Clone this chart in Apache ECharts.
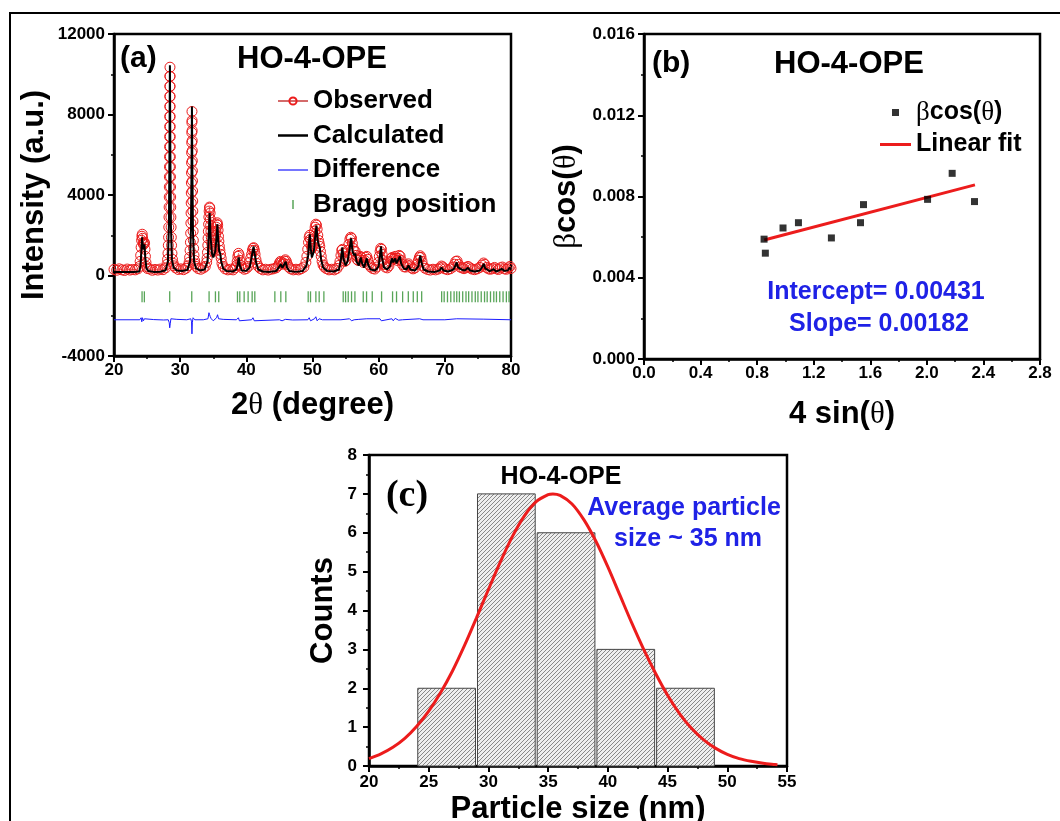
<!DOCTYPE html>
<html>
<head>
<meta charset="utf-8">
<script src="https://cdn.jsdelivr.net/npm/echarts@6/dist/echarts.min.js"></script>
<style>
html,body{margin:0;padding:0;background:#fff;}
#chart{width:1060px;height:821px;}
</style>
</head>
<body>
<div id="chart"></div>
<script>
// ---------- Panel (a): XRD Rietveld refinement ----------
const obsPts = [[20,300],[20.4,260],[20.8,330],[21.2,280],[21.6,250],[22,320],[22.4,270],[22.8,300],[23.2,280],[23.6,330],
[23.85,450],[23.95,700],[24.03,1000],[24.1,1400],[24.17,1750],[24.22,1950],[24.27,2050],[24.33,1850],[24.4,1600],[24.47,1550],[24.55,1650],[24.62,1600],[24.68,1300],[24.75,950],[24.83,650],[24.92,450],[25.05,350],
[25.4,320],[25.8,260],[26.2,300],[26.6,270],[27,320],[27.4,290],[27.8,380],
[28,550],[28.1,800],[28.16,1100],[28.21,1500],[28.25,1900],[28.28,2400],[28.31,2900],[28.33,3400],[28.35,3900],[28.36,4400],[28.37,4900],[28.38,5400],[28.39,5900],[28.4,6400],[28.41,6900],[28.415,7400],[28.42,7900],[28.43,8400],[28.435,8900],[28.44,9400],[28.45,9900],[28.46,10350],
[28.47,9900],[28.475,9400],[28.48,8900],[28.485,8400],[28.49,7900],[28.5,7400],[28.505,6900],[28.51,6400],[28.52,5900],[28.53,5400],[28.54,4900],[28.55,4400],[28.565,3900],[28.58,3400],[28.6,2900],[28.63,2400],[28.66,1900],[28.7,1500],[28.76,1100],[28.84,800],[28.95,600],[29.05,480],
[29.3,380],[29.7,300],[30.1,330],[30.5,290],[30.9,360],[31.2,480],
[31.35,650],[31.43,900],[31.5,1250],[31.55,1650],[31.59,2100],[31.62,2600],[31.645,3100],[31.665,3600],[31.68,4100],[31.695,4600],[31.71,5100],[31.72,5600],[31.73,6100],[31.745,6600],[31.755,7100],[31.77,7600],[31.785,8150],
[31.8,7700],[31.81,7200],[31.82,6700],[31.83,6200],[31.84,5700],[31.855,5200],[31.865,4700],[31.88,4200],[31.895,3700],[31.91,3200],[31.93,2700],[31.955,2200],[31.99,1750],[32.03,1350],[32.09,1000],[32.17,750],[32.27,580],[32.4,450],
[32.7,350],[33.1,310],[33.5,370],[33.8,450],
[34,650],[34.07,850],[34.13,1150],[34.18,1500],[34.22,1850],[34.26,2200],[34.3,2550],[34.34,2900],[34.38,3200],[34.43,3400],[34.48,3350],[34.53,3100],[34.57,2800],[34.61,2500],[34.65,2200],[34.7,1900],[34.76,1600],[34.83,1400],[34.9,1300],[35,1200],[35.1,1300],[35.18,1500],[35.26,1750],[35.33,2000],[35.4,2200],[35.46,2400],[35.53,2550],[35.6,2620],[35.67,2500],[35.73,2250],[35.79,1950],[35.85,1700],[35.92,1450],[36,1250],[36.1,1050],[36.2,850],[36.32,600],[36.5,450],
[36.8,330],[37.2,280],[37.6,310],[38,280],[38.3,380],
[38.5,500],[38.62,700],[38.72,950],[38.82,1100],[38.92,1000],[39.02,750],[39.15,500],[39.35,380],
[39.7,310],[40,350],[40.3,450],
[40.5,650],[40.65,850],[40.8,1050],[40.92,1250],[41.02,1350],[41.12,1380],[41.22,1250],[41.32,1050],[41.45,800],[41.6,600],[41.8,450],[42.1,350],
[42.5,280],[42.9,310],[43.3,270],[43.7,310],[44.1,330],[44.5,380],
[44.8,480],[45,620],[45.15,700],[45.3,650],[45.45,560],[45.6,620],[45.75,720],[45.9,780],[46.05,700],[46.2,550],[46.4,420],
[46.7,330],[47.1,280],[47.5,310],[47.9,280],[48.3,340],[48.7,420],[49,650],
[49.15,950],[49.28,1300],[49.4,1650],[49.5,1900],[49.6,2000],[49.7,1800],[49.8,1500],[49.9,1350],[50,1450],[50.1,1700],[50.2,1950],[50.3,2200],[50.4,2400],[50.5,2550],[50.6,2500],[50.7,2300],[50.8,2000],[50.9,1750],[51,1600],[51.1,1450],[51.2,1200],[51.32,950],[51.45,700],[51.6,520],[51.8,420],
[52.1,340],[52.5,280],[52.9,310],[53.3,280],[53.7,350],[54,500],
[54.15,700],[54.3,1000],[54.42,1250],[54.52,1300],[54.62,1100],[54.75,850],[54.9,700],[55.05,750],[55.2,950],[55.35,1250],[55.5,1550],[55.65,1800],[55.78,1900],[55.9,1850],[56.02,1600],[56.15,1350],[56.3,1200],[56.45,1200],[56.6,1000],[56.75,800],[56.9,750],[57.05,850],[57.2,950],[57.35,900],[57.5,750],[57.7,650],[57.9,750],[58.05,900],[58.2,950],[58.35,800],[58.55,550],[58.8,420],
[59.1,350],[59.4,320],[59.7,420],[59.95,650],
[60.1,950],[60.22,1200],[60.32,1350],[60.42,1300],[60.52,1050],[60.65,750],[60.8,550],[61,420],
[61.3,380],[61.55,480],[61.75,700],[61.9,850],[62.05,900],[62.2,800],[62.35,850],[62.5,950],[62.65,850],[62.8,750],[62.95,850],[63.1,1000],[63.25,950],[63.4,750],[63.6,550],[63.85,430],[64.1,420],[64.3,520],[64.5,580],[64.7,480],[64.95,380],
[65.2,330],[65.5,380],[65.8,550],
[66,750],[66.15,900],[66.28,980],[66.4,900],[66.55,700],[66.75,480],[67,360],
[67.4,300],[67.8,270],[68.2,310],[68.6,280],[69,320],[69.3,380],[69.5,470],[69.7,420],[70,330],[70.4,290],[70.8,330],[71.2,420],[71.45,560],[71.65,700],[71.85,720],[72.05,550],[72.3,420],[72.6,380],[72.9,340],[73.2,400],[73.5,450],[73.8,380],[74.1,320],[74.5,290],[74.9,330],[75.3,400],[75.6,520],[75.85,620],[76.05,550],[76.3,400],[76.6,330],[76.9,310],[77.2,350],[77.5,400],[77.8,330],[78.1,300],[78.4,380],[78.7,420],[79,330],[79.3,310],[79.6,380],[79.85,450],[80,350]];

const calcPts = [[20,180],[21,175],[22,170],[23,175],[23.8,200],
[24,450],[24.12,1100],[24.25,1900],[24.38,1300],[24.5,1350],[24.6,1550],[24.72,900],[24.9,350],[25.2,220],[26,180],[27,190],[27.8,260],
[28.15,700],[28.3,2500],[28.38,6000],[28.45,10450],[28.52,6000],[28.6,2500],[28.75,800],[29,400],[29.5,250],[30.3,220],[31.1,280],
[31.5,700],[31.63,2300],[31.71,5000],[31.78,8400],[31.85,5000],[31.93,2200],[32.1,700],[32.4,350],[33,250],[33.7,300],
[34.15,700],[34.3,1800],[34.45,3100],[34.6,1900],[34.8,1100],[35,900],[35.3,1200],
[35.5,1900],[35.63,2550],[35.75,1700],[35.9,1200],[36.05,1100],[36.2,700],[36.5,350],[37,220],[38,200],[38.5,300],
[38.7,550],[38.85,900],[39,500],[39.3,250],[40,230],[40.5,400],[40.8,900],
[40.95,1200],[41.1,1450],[41.25,1100],[41.5,600],[41.8,300],[42.5,200],[43.5,180],[44.5,220],[44.9,400],
[45.2,560],[45.45,380],[45.7,450],[45.95,680],[46.15,400],[46.5,220],[47.5,180],[48.5,220],[49.1,500],
[49.35,1000],[49.5,1700],[49.6,2050],[49.75,1300],[49.9,900],[50.2,1200],[50.45,2100],[50.6,2480],[50.75,1800],[50.95,1500],[51.1,1400],[51.3,800],[51.6,400],[52.2,230],[53.2,200],[54,300],
[54.3,800],[54.5,1400],[54.7,800],[55,500],[55.3,700],[55.6,1300],[55.85,1850],[56.05,1200],[56.3,1000],[56.45,1100],[56.65,700],[57,500],[57.3,900],[57.5,600],[57.8,400],[58.2,850],[58.45,500],[58.8,300],[59.5,250],[60,450],
[60.2,1000],[60.35,1450],[60.5,900],[60.8,400],[61.3,300],[61.7,450],[62,850],[62.2,650],[62.5,850],[62.7,600],[63,650],[63.2,950],[63.4,600],[63.8,350],[64.2,300],[64.5,500],[64.8,300],[65.5,250],[66,450],
[66.15,750],[66.3,1000],[66.5,600],[66.8,300],[67.5,200],[68.5,180],[69.2,250],[69.5,400],[69.8,250],[70.5,200],[71.3,300],[71.6,500],[71.8,650],[72,400],[72.5,300],[73,250],[73.5,380],[73.8,250],[74.5,200],[75.3,250],[75.7,450],[75.9,580],[76.1,350],[76.8,220],[77.4,320],[77.7,200],[78.2,250],[78.6,330],[79,230],[79.5,250],[79.8,400],[80,300]];

const diffPts = [[20,-2200],[23.9,-2200],[24.1,-2100],[24.2,-2300],[24.3,-2100],[24.45,-2250],[24.6,-2150],[24.8,-2200],[26,-2190],[27.5,-2210],[28.2,-2200],[28.35,-2350],[28.42,-2600],[28.5,-2400],[28.6,-2150],[28.8,-2200],[29.5,-2180],[31,-2200],[31.6,-2150],[31.72,-2300],[31.78,-2900],[31.84,-2350],[31.95,-2100],[32.2,-2200],[33.5,-2200],[34.2,-2150],[34.35,-1850],[34.45,-1950],[34.55,-2050],[34.7,-2150],[35,-2250],[35.5,-2100],[35.65,-1950],[35.8,-2150],[36,-2200],[36.5,-2180],[38.5,-2200],[38.8,-2100],[38.95,-2250],[39.2,-2200],[40.8,-2200],[41,-2100],[41.2,-2250],[41.5,-2200],[45,-2200],[45.2,-2150],[45.4,-2250],[45.9,-2180],[47,-2210],[49.3,-2200],[49.5,-2100],[49.7,-2250],[50.3,-2150],[50.5,-2050],[50.7,-2250],[51,-2150],[51.5,-2200],[54.3,-2200],[54.5,-2250],[55.6,-2150],[55.9,-2250],[56.3,-2200],[57,-2180],[58.2,-2150],[58.4,-2230],[60.2,-2150],[60.4,-2250],[60.7,-2200],[62,-2150],[62.2,-2250],[62.5,-2130],[63,-2220],[63.3,-2150],[63.6,-2200],[66.2,-2150],[66.4,-2230],[66.7,-2200],[70,-2200],[71.8,-2150],[72,-2220],[75.9,-2170],[76.1,-2220],[80,-2200]];

const braggPos = [24.24,24.59,28.42,31.75,34.37,35.33,35.83,38.66,39.01,39.67,40.27,40.88,41.28,44.31,45.21,45.97,49.35,49.70,50.51,51.01,51.72,54.64,55.0,55.4,55.9,56.41,57.67,58.17,59.03,60.44,62.1,62.7,63.62,64.48,65.23,65.84,66.5,69.52,69.9,70.4,70.9,71.4,71.8,72.2,72.7,73.2,73.6,74.1,74.6,75.0,75.5,76.0,76.4,76.9,77.4,77.8,78.3,78.8,79.3,79.7];
const braggLevel = -1060;

// ---------- Panel (b): Williamson-Hall ----------
const whX = [0.849,0.858,0.983,1.092,1.325,1.531,1.552,2.005,2.179,2.337];
const whY = [0.00590,0.00521,0.00645,0.00671,0.00596,0.00671,0.00760,0.00786,0.00914,0.00775];
const fitX = [0.85, 2.34];
const fitY = [0.00586, 0.00857];

// ---------- Panel (c): particle size histogram ----------
const binStart = [24,29,34,39,44];
const binEnd = [29,34,39,44,49];
const counts = [2,7,6,3,2];
const gaussX = [20,21,22,23,24,25,26,27,28,29,30,31,32,33,34,35,35.4,36,37,38,39,40,41,42,43,44,45,46,47,48,49,50,51,52,53,54,54.2];
const gaussY = [0.19,0.31,0.48,0.71,1.02,1.41,1.89,2.45,3.10,3.81,4.54,5.25,5.90,6.43,6.80,6.98,7.0,6.96,6.74,6.33,5.78,5.12,4.40,3.68,3.00,2.38,1.82,1.35,0.97,0.68,0.46,0.30,0.19,0.12,0.07,0.04,0.035];

const FONT = '"Liberation Sans", Arial, Helvetica, sans-serif';
const SERIF = '"Liberation Serif", "Times New Roman", serif';
const RED = '#ec1c1c';
const BLUE = '#1f22e6';

function hatch(){
  const c = document.createElement('canvas');
  c.width = 4; c.height = 4;
  const g = c.getContext('2d');
  g.fillStyle = '#eeeeee'; g.fillRect(0,0,4,4);
  g.strokeStyle = '#7c7c7c'; g.lineWidth = 0.9;
  g.beginPath();
  g.moveTo(0,4); g.lineTo(4,0);
  g.moveTo(-1,1); g.lineTo(1,-1);
  g.moveTo(3,5); g.lineTo(5,3);
  g.stroke();
  return c;
}
const hatchPattern = {image: hatch(), repeat: 'repeat'};

function axisBase(extra){
  return Object.assign({
    type: 'value',
    splitLine: {show:false},
    axisLine: {show:true, onZero:false, lineStyle:{color:'#000', width:2.5}},
    axisTick: {show:true, inside:false, length:6, lineStyle:{color:'#000', width:2}},
    minorTick: {show:true, splitNumber:2, length:3, lineStyle:{color:'#000', width:1.5}},
    nameLocation: 'middle',
    nameTextStyle: {color:'#000', fontFamily:FONT, fontWeight:'bold', fontSize:31,
      rich:{g:{fontFamily:SERIF, fontWeight:'normal', fontSize:31, color:'#000'}}}
  }, extra);
}
function lab(margin, fmt){
  const o = {color:'#000', fontFamily:FONT, fontWeight:'bold', fontSize:17, margin:margin};
  o.formatter = fmt || (v => String(v));
  return o;
}
function gridBox(l, t, w, h){
  return {left:l, top:t, width:w, height:h, show:true, borderColor:'#000', borderWidth:2.5,
    backgroundColor:'transparent', containLabel:false, outerBoundsMode:'none'};
}

const chart = echarts.init(document.getElementById('chart'), null, {renderer:'canvas'});

const option = {
  animation: false,
  backgroundColor: '#fff',
  grid: [
    gridBox(114, 34, 397, 322),
    gridBox(644, 34, 396, 325),
    gridBox(369, 455, 418, 311)
  ],
  xAxis: [
    axisBase({gridIndex:0, min:20, max:80, interval:10, name:'2{g|θ} (degree)', nameGap:34, axisLabel:lab(6)}),
    axisBase({gridIndex:1, min:0, max:2.8, interval:0.4, name:'4 sin({g|θ})', nameGap:40, axisLabel:lab(6, v => v.toFixed(1))}),
    axisBase({gridIndex:2, min:20, max:55, interval:5, name:'Particle size (nm)', nameGap:28, axisLabel:lab(8)})
  ],
  yAxis: [
    axisBase({gridIndex:0, min:-4000, max:12000, interval:4000, name:'Intensity (a.u.)', nameGap:64, axisLabel:lab(9)}),
    axisBase({gridIndex:1, min:0, max:0.016, interval:0.004, name:'{g|β}cos({g|θ})', nameGap:62, axisLabel:lab(9, v => v.toFixed(3))}),
    axisBase({gridIndex:2, min:0, max:8, interval:1, name:'Counts', nameGap:30, axisLabel:lab(12)})
  ],
  legend: [
    {
      data: [
        {name:'Observed'},
        {name:'Calculated', icon:'path://M0,0L30,0L30,2.5L0,2.5Z'},
        {name:'Difference', icon:'path://M0,0L30,0L30,1.2L0,1.2Z'},
        {name:'Bragg position', icon:'path://M0,0L1,0L1,6L0,6Z'}
      ],
      orient: 'vertical', left: 272, top: 83, itemWidth: 30, itemHeight: 9, itemGap: 8.5,
      selectedMode: false,
      textStyle: {color:'#000', fontFamily:FONT, fontWeight:'bold', fontSize:26, lineHeight:26}
    },
    {
      data: [
        {name:'βcos(θ)', icon:'path://M0,0L1,0L1,1L0,1Z'},
        {name:'Linear fit', icon:'path://M0,0L31,0L31,3L0,3Z'}
      ],
      orient: 'vertical', left: 875, top: 94, itemWidth: 31, itemHeight: 7, itemGap: 6,
      selectedMode: false,
      formatter: n => n === 'βcos(θ)' ? '{g|β}cos({g|θ})' : n,
      textStyle: {color:'#000', fontFamily:FONT, fontWeight:'bold', fontSize:25, lineHeight:25,
        rich:{g:{fontFamily:SERIF, fontWeight:'normal', fontSize:27, color:'#000'}}}
    }
  ],
  series: [
    {
      name: 'Observed', type: 'line', xAxisIndex:0, yAxisIndex:0, data: obsPts,
      symbol: 'circle', symbolSize: 10, showAllSymbol: true,
      itemStyle: {color:'rgba(255,255,255,0)', borderColor:RED, borderWidth:1},
      lineStyle: {color:'#d46a6a', width:1}, z: 2
    },
    {
      name: 'Calculated', type: 'line', xAxisIndex:0, yAxisIndex:0, data: calcPts,
      symbol: 'none', lineStyle: {color:'#000', width:2}, itemStyle:{color:'#000'}, z: 3
    },
    {
      name: 'Difference', type: 'line', xAxisIndex:0, yAxisIndex:0, data: diffPts,
      symbol: 'none', lineStyle: {color:'#1a1aff', width:1}, itemStyle:{color:'#1a1aff'}, z: 3
    },
    {
      name: 'Bragg position', type: 'scatter', xAxisIndex:0, yAxisIndex:0,
      data: braggPos.map(x => [x, braggLevel]),
      symbol: 'rect', symbolSize: [1.3, 11], itemStyle: {color:'#2e8f2e'}, z: 3
    },
    {
      name: 'βcos(θ)', type: 'scatter', xAxisIndex:1, yAxisIndex:1,
      data: whX.map((x,i) => [x, whY[i]]),
      symbol: 'rect', symbolSize: 7, itemStyle: {color:'#000'}, z: 3
    },
    {
      name: 'Linear fit', type: 'line', xAxisIndex:1, yAxisIndex:1,
      data: fitX.map((x,i) => [x, fitY[i]]),
      symbol: 'none', lineStyle: {color:RED, width:3}, itemStyle:{color:RED}, z: 2
    },
    {
      name: 'Histogram', type: 'custom', xAxisIndex:2, yAxisIndex:2,
      data: binStart.map((s,i) => [s, binEnd[i], counts[i]]),
      encode: {x:[0,1], y:2},
      renderItem: function(params, api){
        const p0 = api.coord([api.value(0), api.value(2)]);
        const p1 = api.coord([api.value(1), 0]);
        return {
          type: 'rect',
          shape: {x:p0[0]+1, y:p0[1], width:p1[0]-p0[0]-2, height:p1[1]-p0[1]},
          style: {fill: hatchPattern, stroke:'#444', lineWidth:1}
        };
      }, z: 1
    },
    {
      name: 'Gaussian fit', type: 'line', xAxisIndex:2, yAxisIndex:2,
      data: gaussX.map((x,i) => [x, gaussY[i]]), smooth: 0.3,
      symbol: 'none', lineStyle: {color:RED, width:3}, z: 3
    }
  ],
  graphic: [
    {type:'rect', shape:{x:10, y:13, width:1200, height:900}, style:{fill:'none', stroke:'#000', lineWidth:2}, z:-1, silent:true},
    {type:'text', style:{text:'(a)', x:120, y:59, font:'bold 30px '+FONT, fill:'#000', align:'left', verticalAlign:'middle'}},
    {type:'text', style:{text:'HO-4-OPE', x:237, y:59, font:'bold 31px '+FONT, fill:'#000', align:'left', verticalAlign:'middle'}},
    {type:'text', style:{text:'(b)', x:652, y:64, font:'bold 30px '+FONT, fill:'#000', align:'left', verticalAlign:'middle'}},
    {type:'text', style:{text:'HO-4-OPE', x:774, y:64, font:'bold 31px '+FONT, fill:'#000', align:'left', verticalAlign:'middle'}},
    {type:'text', style:{text:'Intercept= 0.00431', x:876, y:292, font:'bold 25px '+FONT, fill:BLUE, align:'center', verticalAlign:'middle'}},
    {type:'text', style:{text:'Slope= 0.00182', x:879, y:324, font:'bold 25px '+FONT, fill:BLUE, align:'center', verticalAlign:'middle'}},
    {type:'text', style:{text:'HO-4-OPE', x:561, y:477, font:'bold 25px '+FONT, fill:'#000', align:'center', verticalAlign:'middle'}},
    {type:'text', style:{text:'(c)', x:407, y:496, font:'bold 38px '+SERIF, fill:'#000', align:'center', verticalAlign:'middle'}},
    {type:'text', style:{text:'Average particle', x:684, y:508, font:'bold 25px '+FONT, fill:BLUE, align:'center', verticalAlign:'middle'}},
    {type:'text', style:{text:'size ~ 35 nm', x:688, y:539, font:'bold 25px '+FONT, fill:BLUE, align:'center', verticalAlign:'middle'}}
  ]
};
chart.setOption(option);
</script>
</body>
</html>
